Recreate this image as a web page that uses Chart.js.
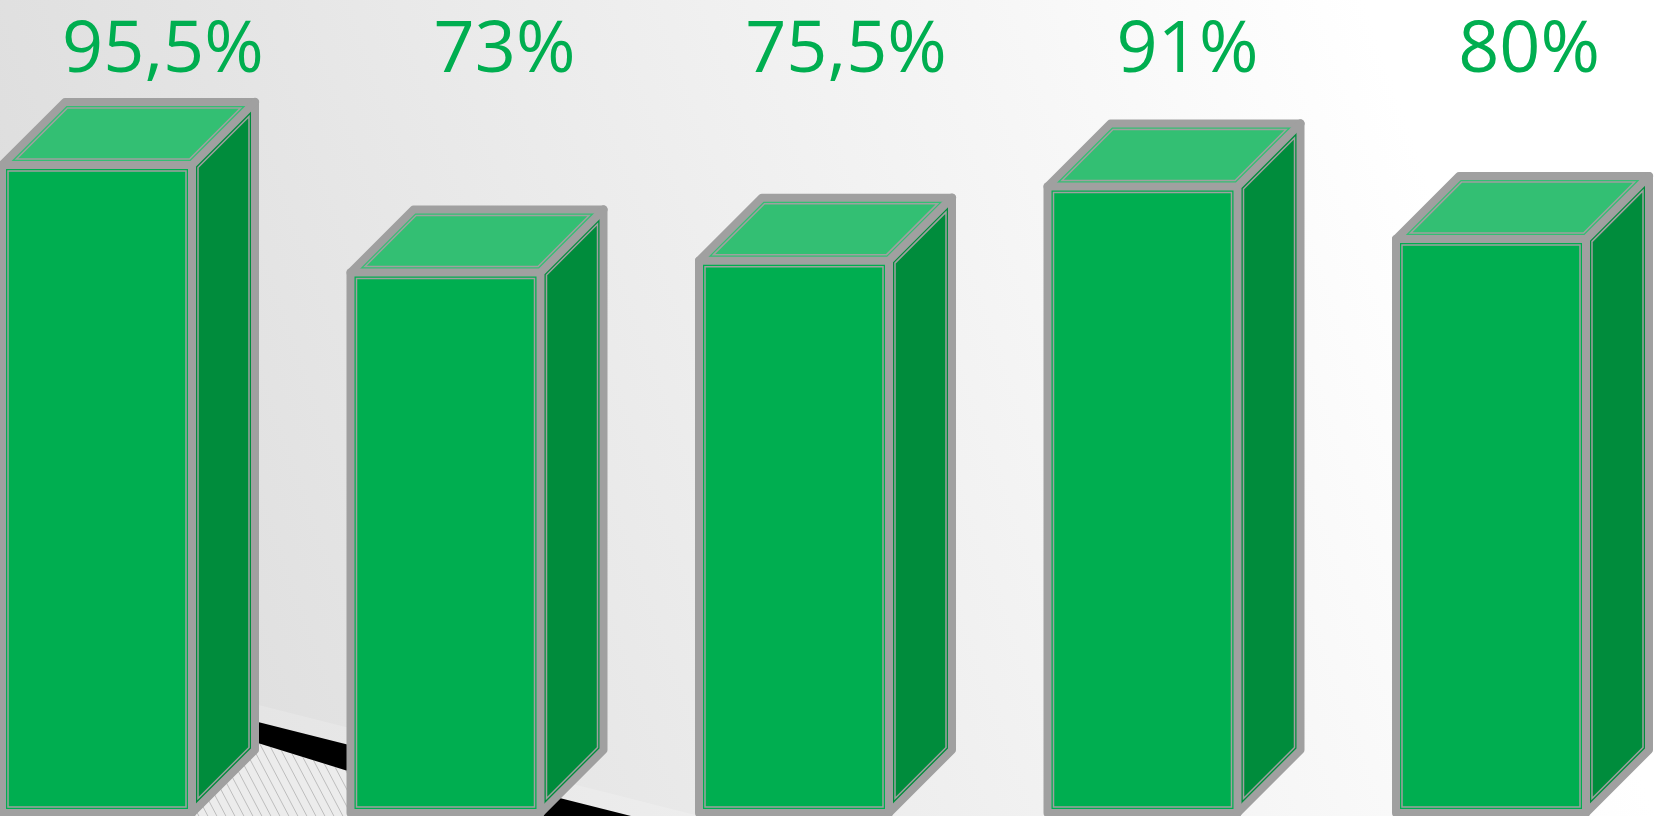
<!DOCTYPE html>
<html>
<head>
<meta charset="utf-8">
<script src="https://cdn.jsdelivr.net/npm/chart.js@4.4.1/dist/chart.umd.min.js"></script>
<style>
  html, body { margin: 0; padding: 0; background: #fff; }
  #wrap { width: 1667px; height: 816px; position: relative; }
</style>
</head>
<body>
<div id="wrap"><canvas id="c"></canvas></div>
<script>
// ---- data ----
const categories = ["A", "B", "C", "D", "E"];
const values = [95.5, 73, 75.5, 91, 80];
const valueLabels = values.map(v => String(v).replace('.', ',') + '%');

// ---- style ----
const FRONT = '#00AE50';
const TOP = '#33BF73';
const SIDE = '#008C3C';
const GREY = '#A0A0A0';
const DEPTH = 63;

function insetPoly(pts, d) {
  const n = pts.length;
  let area = 0;
  for (let i = 0; i < n; i++) {
    const a = pts[i], b = pts[(i + 1) % n];
    area += a[0] * b[1] - b[0] * a[1];
  }
  const s = area > 0 ? 1 : -1;
  const lines = [];
  for (let i = 0; i < n; i++) {
    const a = pts[i], b = pts[(i + 1) % n];
    let dx = b[0] - a[0], dy = b[1] - a[1];
    const L = Math.hypot(dx, dy); dx /= L; dy /= L;
    const nx = -dy * s, ny = dx * s;
    lines.push([a[0] + nx * d, a[1] + ny * d, dx, dy]);
  }
  const out = [];
  for (let i = 0; i < n; i++) {
    const l1 = lines[(i - 1 + n) % n], l2 = lines[i];
    const cr = l1[2] * l2[3] - l1[3] * l2[2];
    const px = l2[0] - l1[0], py = l2[1] - l1[1];
    const t = (px * l2[3] - py * l2[2]) / cr;
    out.push([l1[0] + t * l1[2], l1[1] + t * l1[3]]);
  }
  return out;
}

function polyPath(ctx, pts) {
  ctx.beginPath();
  ctx.moveTo(pts[0][0], pts[0][1]);
  for (let i = 1; i < pts.length; i++) ctx.lineTo(pts[i][0], pts[i][1]);
  ctx.closePath();
}

const backgroundPlugin = {
  id: 'bg',
  beforeDraw(chart) {
    const ctx = chart.ctx;
    const W = chart.width, H = chart.height;
    ctx.save();
    const g = ctx.createLinearGradient(0, 600, 1400, 100);
    g.addColorStop(0, '#dbdbdb');
    g.addColorStop(1, '#ffffff');
    ctx.fillStyle = g;
    ctx.fillRect(0, 0, W, H);
    // light skirting band
    polyPath(ctx, [[0, 640], [700, 816], [631, 816], [0, 657]]);
    ctx.fillStyle = 'rgba(255,255,255,0.18)';
    ctx.fill();
    // hatched floor
    const floor = [[0, 663], [493, 816], [0, 816]];
    polyPath(ctx, floor);
    ctx.fillStyle = '#ececec';
    ctx.fill();
    ctx.save();
    polyPath(ctx, floor);
    ctx.clip();
    ctx.strokeStyle = '#bdbdbd';
    ctx.lineWidth = 1;
    for (let x0 = -200; x0 < 600; x0 += 9) {
      ctx.beginPath();
      ctx.moveTo(x0, 640);
      ctx.lineTo(x0 + 95, 820);
      ctx.stroke();
    }
    ctx.restore();
    // black wedge
    polyPath(ctx, [[0, 657], [631, 816], [493, 816], [0, 663]]);
    ctx.fillStyle = '#000';
    ctx.fill();
    ctx.restore();
  }
};

const boxPlugin = {
  id: 'box3d',
  afterDatasetsDraw(chart) {
    const ctx = chart.ctx;
    const meta = chart.getDatasetMeta(0);
    const area = chart.chartArea;
    const cx = (area.left + area.right) / 2;
    ctx.save();
    meta.data.forEach((bar, i) => {
      const p = bar.getProps(['x', 'y', 'base', 'width'], true);
      const xL = p.x - p.width / 2, xR = p.x + p.width / 2;
      const yT = p.y, yB = p.base, d = DEPTH;
      const front = [[xL, yT], [xR, yT], [xR, yB], [xL, yB]];
      const top = [[xL, yT], [xL + d, yT - d], [xR + d, yT - d], [xR, yT]];
      const side = [[xR, yT], [xR + d, yT - d], [xR + d, yB - d], [xR, yB]];
      polyPath(ctx, top); ctx.fillStyle = TOP; ctx.fill();
      polyPath(ctx, side); ctx.fillStyle = SIDE; ctx.fill();
      // thin inner lines
      ctx.strokeStyle = GREY;
      ctx.lineWidth = 1.5;
      ctx.lineJoin = 'miter';
      [front, top, side].forEach(f => { polyPath(ctx, insetPoly(f, 6)); ctx.stroke(); });
      // thick edges
      ctx.lineWidth = 8;
      ctx.lineJoin = 'round';
      ctx.lineCap = 'round';
      polyPath(ctx, [[xL, yB], [xL, yT], [xL + d, yT - d], [xR + d, yT - d], [xR + d, yB - d], [xR, yB]]);
      ctx.stroke();
      ctx.beginPath();
      ctx.moveTo(xL, yT); ctx.lineTo(xR, yT); ctx.lineTo(xR + d, yT - d);
      ctx.moveTo(xR, yT); ctx.lineTo(xR, yB);
      ctx.stroke();
      // value label
      ctx.fillStyle = FRONT;
      ctx.font = '72px "Open Sans"';
      ctx.textAlign = 'center';
      ctx.textBaseline = 'alphabetic';
      const lx = cx + (p.x - cx) * 0.98 + 52;
      ctx.fillText(valueLabels[i], lx, 72);
    });
    ctx.restore();
  }
};

new Chart(document.getElementById('c'), {
  type: 'bar',
  data: {
    labels: categories,
    datasets: [{
      data: values,
      base: -40,
      backgroundColor: FRONT,
      borderWidth: 0,
      barThickness: 190,
      clip: false
    }]
  },
  options: {
    responsive: true,
    maintainAspectRatio: false,
    animation: false,
    layout: { padding: { left: 97, right: 176, top: 0, bottom: 3 } },
    scales: {
      x: { display: false, offset: false },
      y: { display: false, min: -40, max: 130 }
    },
    plugins: { legend: { display: false }, tooltip: { enabled: false } }
  },
  plugins: [backgroundPlugin, boxPlugin]
});
</script>
</body>
</html>
